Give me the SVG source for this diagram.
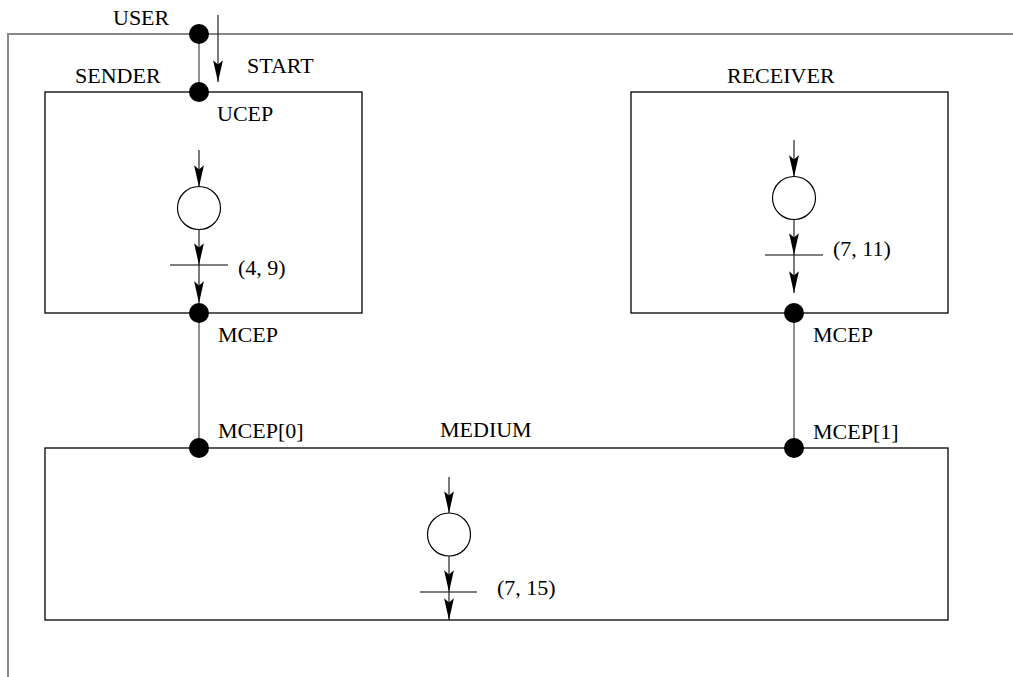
<svg xmlns="http://www.w3.org/2000/svg" width="1013" height="677" viewBox="0 0 1013 677">
<style>
text{font-family:"Liberation Serif","Times New Roman",serif;font-size:22px;fill:#000}
.box{fill:none;stroke:#000;stroke-width:1.3}
.frame{fill:none;stroke:#888;stroke-width:2}
.conn{fill:none;stroke:#777;stroke-width:1.6}
.arr{fill:none;stroke:#222;stroke-width:1.2;marker-end:url(#ah)}
.tick{stroke:#000;stroke-width:1.2}
.state{fill:#fff;stroke:#000;stroke-width:1.2}
.dot{fill:#000}
</style>
<defs>
<marker id="ah" markerUnits="userSpaceOnUse" markerWidth="24" markerHeight="14" refX="20" refY="5" orient="auto" viewBox="0 0 22 10" overflow="visible">
<path d="M20,5 L0,0.5 L4,5 L0,9.5 Z" fill="#000"/>
</marker>
</defs>
<rect width="1013" height="677" fill="#fff"/>
<g id="frame">
<path class="frame" d="M8,677 V34 H1013"/>
</g>
<g id="connectors">
<line class="conn" x1="199" y1="34" x2="199" y2="92"/>
<line class="conn" x1="199" y1="313" x2="199" y2="448"/>
<line class="conn" x1="794" y1="313" x2="794" y2="448"/>
<line class="arr" x1="218" y1="15" x2="218" y2="82"/>
</g>
<g id="sender">
<rect class="box" x="45" y="92" width="317" height="221"/>
<text x="75" y="83">SENDER</text>
<line class="arr" x1="199" y1="150" x2="199" y2="187"/>
<circle class="state" cx="199" cy="208" r="21.5"/>
<line class="arr" x1="199" y1="229.5" x2="199" y2="265"/>
<line class="tick" x1="170" y1="265" x2="228" y2="265"/>
<line class="arr" x1="199" y1="265" x2="199" y2="303"/>
<text x="238" y="275">(4, 9)</text>
</g>
<g id="receiver">
<rect class="box" x="631" y="92" width="317" height="221"/>
<text x="727" y="83">RECEIVER</text>
<line class="arr" x1="794" y1="140" x2="794" y2="177"/>
<circle class="state" cx="794" cy="198" r="21.5"/>
<line class="arr" x1="794" y1="219.5" x2="794" y2="255"/>
<line class="tick" x1="765" y1="255" x2="823" y2="255"/>
<line class="arr" x1="794" y1="255" x2="794" y2="293"/>
<text x="833" y="256">(7, 11)</text>
</g>
<g id="medium">
<rect class="box" x="45" y="448" width="903" height="172"/>
<text x="440" y="437">MEDIUM</text>
<line class="arr" x1="449" y1="477" x2="449" y2="513"/>
<circle class="state" cx="449" cy="534.5" r="21.5"/>
<line class="arr" x1="449" y1="556" x2="449" y2="592"/>
<line class="tick" x1="420" y1="592" x2="477" y2="592"/>
<line class="arr" x1="449" y1="592" x2="449" y2="620"/>
<text x="497" y="595">(7, 15)</text>
</g>
<g id="user-port">
<circle class="dot" cx="199" cy="34" r="10"/>
<text x="113" y="25">USER</text>
<text x="247" y="73">START</text>
</g>
<g id="sender-ucep">
<circle class="dot" cx="199" cy="92" r="10"/>
<text x="217" y="121">UCEP</text>
</g>
<g id="sender-mcep">
<circle class="dot" cx="199" cy="313" r="10"/>
<text x="218" y="342">MCEP</text>
</g>
<g id="receiver-mcep">
<circle class="dot" cx="794" cy="313" r="10"/>
<text x="813" y="342">MCEP</text>
</g>
<g id="medium-mcep0">
<circle class="dot" cx="199" cy="448" r="10"/>
<text x="218" y="438">MCEP[0]</text>
</g>
<g id="medium-mcep1">
<circle class="dot" cx="794" cy="448" r="10"/>
<text x="813" y="439">MCEP[1]</text>
</g>
</svg>
